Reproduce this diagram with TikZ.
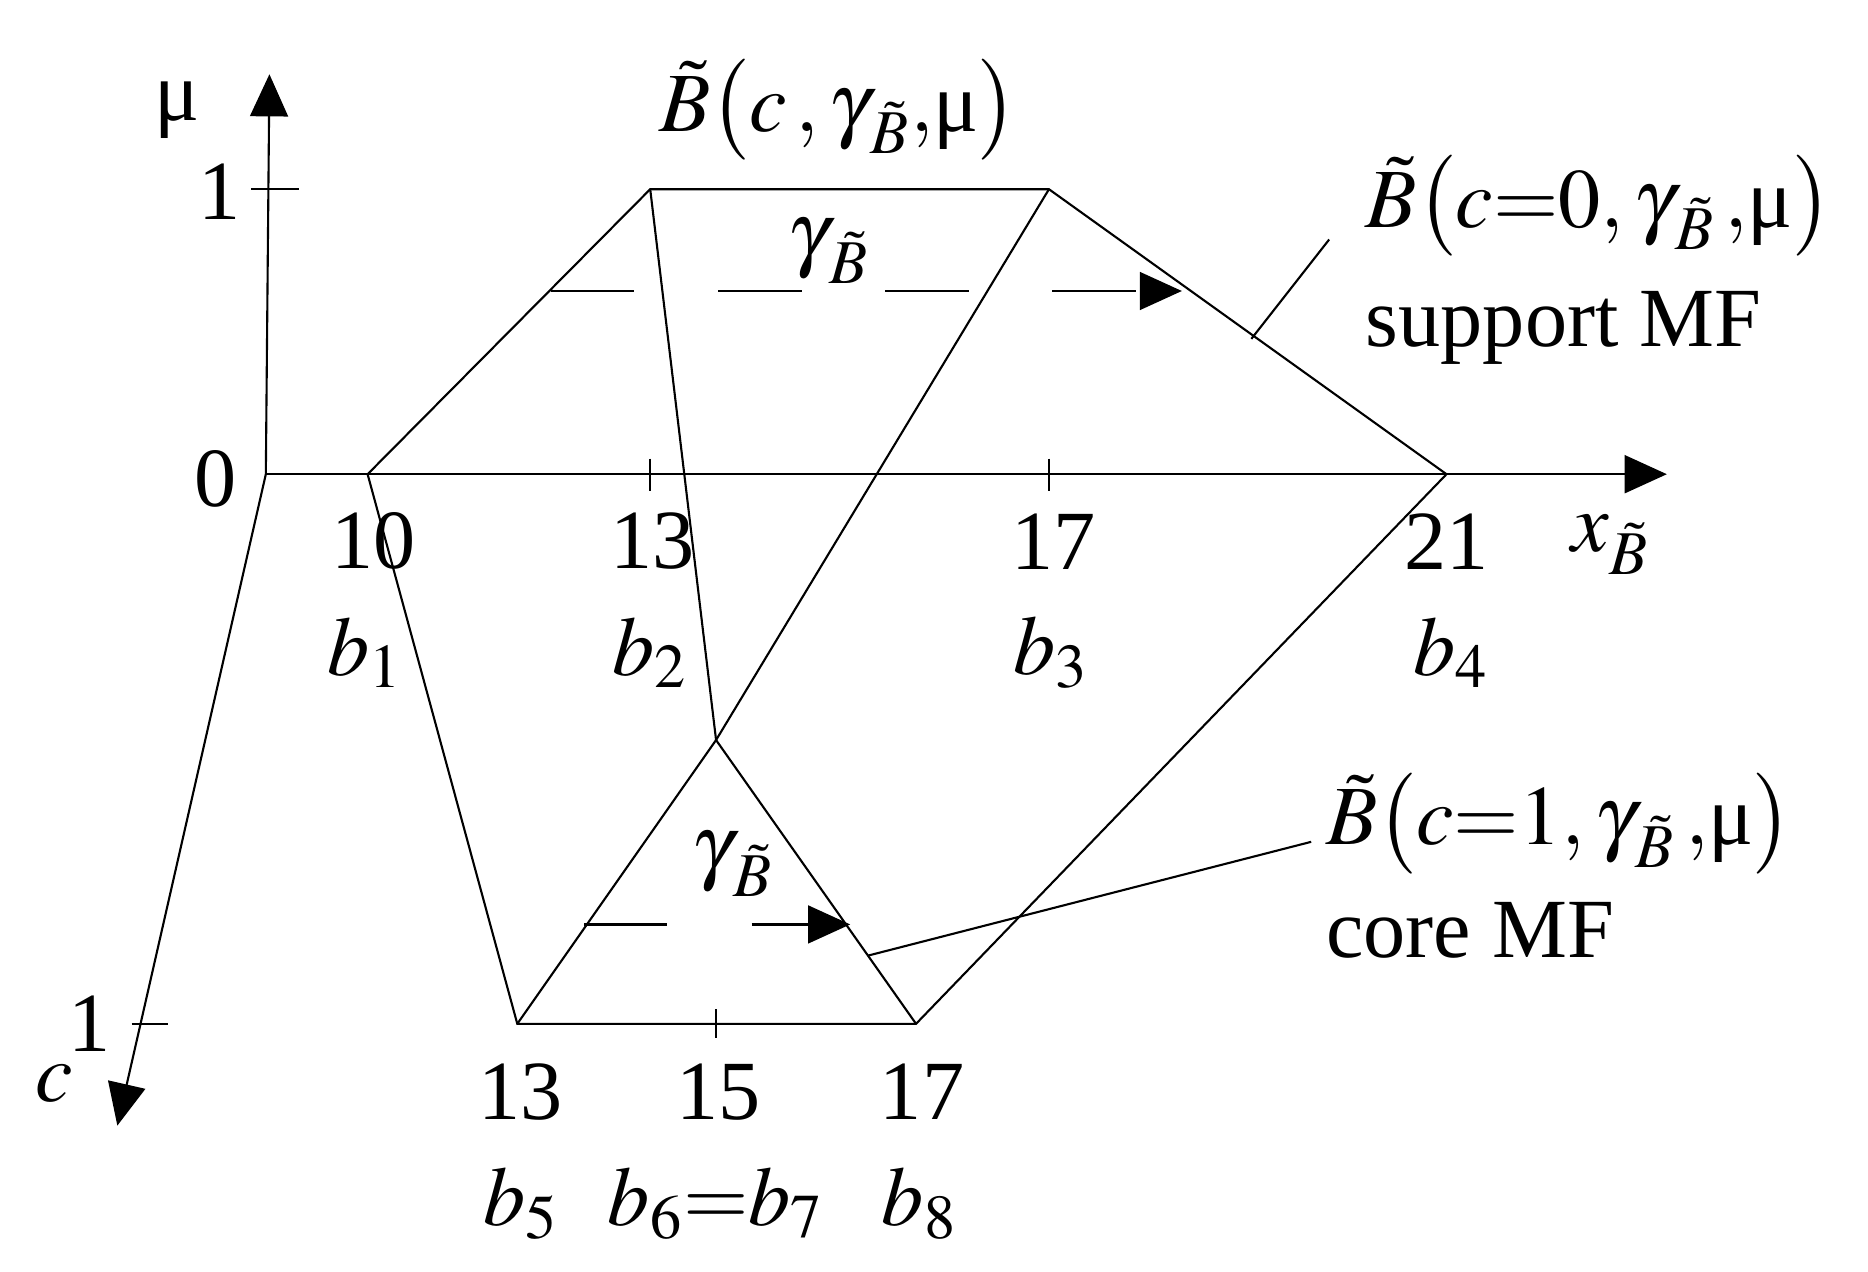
\documentclass[tikz,border=0pt]{standalone}
\usepackage{mathptmx}
\usepackage{fontspec}
\setmainfont{Liberation Serif}
\usetikzlibrary{arrows.meta}
\begin{document}
\begin{tikzpicture}[x=0.01cm,y=-0.01cm,
  ln/.style={line width=0.5pt},
  ar/.style={ln,-{Triangle[length=10pt,width=9pt]}},
  lab/.style={font=\fontsize{20}{24}\selectfont,inner sep=0pt}]
\useasboundingbox (0,0) rectangle (1560,1062);
\coordinate (O) at (222,396);
\coordinate (mu) at (225,62);
\coordinate (x) at (1392,396);
\coordinate (c) at (98,940);
\coordinate (b1) at (307,396);
\coordinate (b2) at (543,158);
\coordinate (b3) at (876,158);
\coordinate (b4) at (1208,396);
\coordinate (b5) at (432,855);
\coordinate (ap) at (598,618);
\coordinate (b8) at (765,855);
\coordinate (d1) at (460,243);
\coordinate (d2) at (987,243);
\coordinate (e1) at (488,772);
\coordinate (e2) at (710,772);
\draw[ar] (O) -- (mu);
\draw[ar] (O) -- (x);
\draw[ar] (O) -- (c);
\draw[ln] (210,158) -- (250,158);
\draw[ln] (543,383) -- (543,410);
\draw[ln] (876,383) -- (876,410);
\draw[ln] (110,855) -- (140,855);
\draw[ln] (598,843) -- (598,867);
\draw[ln] (b1) -- (b2) -- (b3) -- (b4);
\draw[ln] (b1) -- (b5) -- (b8) -- (b4);
\draw[ln] (b2) -- (ap) -- (b8);
\draw[ln] (b3) -- (ap) -- (b5);
\draw[ar,dash pattern=on 19.85pt off 19.85pt] (d1) -- (d2);
\draw[ar,dash pattern=on 19.6pt off 20.1pt] (e1) -- (e2);
\draw[ln] (1045,283) -- (1110,200);
\draw[ln] (725,798) -- (1095,703);
\node[lab] at (148,92) {μ};
\node[lab] at (183,160) {1};
\node[lab] at (180,400) {0};
\node[lab] at (75,855) {1};
\node[lab] at (45,905) {$c$};
\node[lab] at (700,92) {$\tilde{B}\bigl(c\,,\gamma_{\,\tilde{B}},$μ$\bigr)$};
\node[lab] at (692,210) {$\gamma_{\,\tilde{B}}$};
\node[lab] at (612,722) {$\gamma_{\,\tilde{B}}$};
\node[lab,anchor=west] at (1140,172) {$\tilde{B}\bigl(c{=}0,\gamma_{\,\tilde{B}}\,,$μ$\bigr)$};
\node[lab,anchor=west] at (1140,274) {support MF};
\node[lab,anchor=west] at (1107,688) {$\tilde{B}\bigl(c{=}1,\gamma_{\,\tilde{B}}\,,$μ$\bigr)$};
\node[lab,anchor=west] at (1107,777) {core MF};
\node[lab] at (1345,455) {$x_{\tilde{B}}$};
\node[lab] at (312,452) {10};
\node[lab] at (545,452) {13};
\node[lab] at (880,452) {17};
\node[lab] at (1208,452) {21};
\node[lab] at (305,545) {$b_1$};
\node[lab] at (543,545) {$b_2$};
\node[lab] at (878,545) {$b_3$};
\node[lab] at (1212,545) {$b_4$};
\node[lab] at (435,912) {13};
\node[lab] at (600,912) {15};
\node[lab] at (770,912) {17};
\node[lab] at (435,1005) {$b_5$};
\node[lab] at (598,1005) {$b_6{=}b_7$};
\node[lab] at (768,1005) {$b_8$};
\end{tikzpicture}
\end{document}
